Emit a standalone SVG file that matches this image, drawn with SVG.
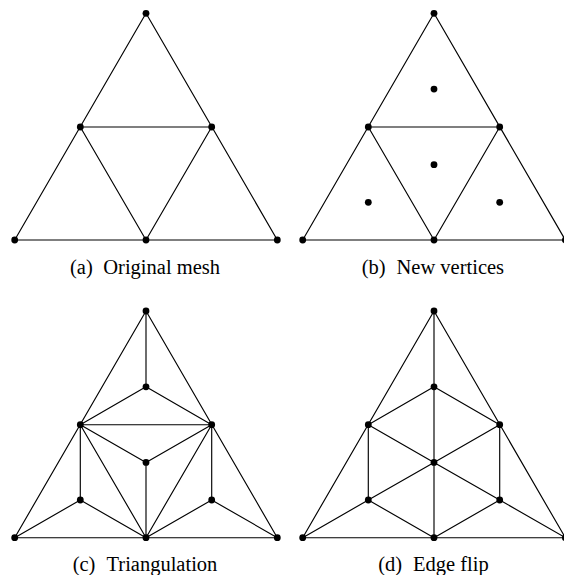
<svg xmlns="http://www.w3.org/2000/svg" width="564" height="575" viewBox="0 0 564 575">
<style>
.e{stroke:#000;stroke-width:1.15;fill:none;stroke-linecap:round}
.v{fill:#000}
.cap{font-family:"Liberation Serif","Times New Roman",serif;font-size:20.5px;fill:#000}
</style>
<defs>
<circle id="dot" r="3.4" class="v"/>
</defs>
<rect width="564" height="575" fill="#fff"/>

<!-- Panel (a) -->
<g id="panel-a">
<g id="a-edges" class="e">
<line x1="146" y1="13.3" x2="14.7" y2="240"/>
<line x1="146" y1="13.3" x2="277.3" y2="240"/>
<line x1="14.7" y1="240" x2="277.3" y2="240"/>
<line x1="80.3" y1="127" x2="211.7" y2="127"/>
<line x1="80.3" y1="127" x2="146" y2="240"/>
<line x1="211.7" y1="127" x2="146" y2="240"/>
</g>
<g id="a-nodes">
<use href="#dot" x="146" y="13.3"/>
<use href="#dot" x="80.3" y="127"/>
<use href="#dot" x="211.7" y="127"/>
<use href="#dot" x="14.7" y="240"/>
<use href="#dot" x="146" y="240"/>
<use href="#dot" x="277.3" y="240"/>
</g>
<text class="cap" y="274"><tspan x="70">(a)</tspan><tspan x="103.3">Original mesh</tspan></text>
</g>

<!-- Panel (b) -->
<g id="panel-b">
<g id="b-edges" class="e" transform="translate(288,0)">
<line x1="146" y1="13.3" x2="14.7" y2="240"/>
<line x1="146" y1="13.3" x2="277.3" y2="240"/>
<line x1="14.7" y1="240" x2="277.3" y2="240"/>
<line x1="80.3" y1="127" x2="211.7" y2="127"/>
<line x1="80.3" y1="127" x2="146" y2="240"/>
<line x1="211.7" y1="127" x2="146" y2="240"/>
</g>
<g id="b-nodes" transform="translate(288,0)">
<use href="#dot" x="146" y="13.3"/>
<use href="#dot" x="80.3" y="127"/>
<use href="#dot" x="211.7" y="127"/>
<use href="#dot" x="14.7" y="240"/>
<use href="#dot" x="146" y="240"/>
<use href="#dot" x="277.3" y="240"/>
<use href="#dot" x="146" y="89.1"/>
<use href="#dot" x="146" y="164.7"/>
<use href="#dot" x="80.3" y="202.3"/>
<use href="#dot" x="211.7" y="202.3"/>
</g>
<text class="cap" y="274"><tspan x="361.7">(b)</tspan><tspan x="396.5">New vertices</tspan></text>
</g>

<!-- Panel (c) -->
<g id="panel-c">
<g id="c-edges" class="e" transform="translate(0,297.7)">
<line x1="146" y1="13.3" x2="14.7" y2="240"/>
<line x1="146" y1="13.3" x2="277.3" y2="240"/>
<line x1="14.7" y1="240" x2="277.3" y2="240"/>
<line x1="80.3" y1="127" x2="211.7" y2="127"/>
<line x1="80.3" y1="127" x2="146" y2="240"/>
<line x1="211.7" y1="127" x2="146" y2="240"/>
<line x1="146" y1="13.3" x2="146" y2="89.1"/>
<line x1="80.3" y1="127" x2="146" y2="89.1"/>
<line x1="211.7" y1="127" x2="146" y2="89.1"/>
<line x1="80.3" y1="127" x2="146" y2="164.7"/>
<line x1="211.7" y1="127" x2="146" y2="164.7"/>
<line x1="146" y1="240" x2="146" y2="164.7"/>
<line x1="80.3" y1="127" x2="80.3" y2="202.3"/>
<line x1="14.7" y1="240" x2="80.3" y2="202.3"/>
<line x1="146" y1="240" x2="80.3" y2="202.3"/>
<line x1="211.7" y1="127" x2="211.7" y2="202.3"/>
<line x1="277.3" y1="240" x2="211.7" y2="202.3"/>
<line x1="146" y1="240" x2="211.7" y2="202.3"/>
</g>
<g id="c-nodes" transform="translate(0,297.7)">
<use href="#dot" x="146" y="13.3"/>
<use href="#dot" x="80.3" y="127"/>
<use href="#dot" x="211.7" y="127"/>
<use href="#dot" x="14.7" y="240"/>
<use href="#dot" x="146" y="240"/>
<use href="#dot" x="277.3" y="240"/>
<use href="#dot" x="146" y="89.1"/>
<use href="#dot" x="146" y="164.7"/>
<use href="#dot" x="80.3" y="202.3"/>
<use href="#dot" x="211.7" y="202.3"/>
</g>
<text class="cap" y="571"><tspan x="72.7">(c)</tspan><tspan x="106.5">Triangulation</tspan></text>
</g>

<!-- Panel (d) -->
<g id="panel-d">
<g id="d-edges" class="e" transform="translate(288,297.7)">
<line x1="146" y1="13.3" x2="14.7" y2="240"/>
<line x1="146" y1="13.3" x2="277.3" y2="240"/>
<line x1="14.7" y1="240" x2="277.3" y2="240"/>
<line x1="146" y1="13.3" x2="146" y2="240"/>
<line x1="80.3" y1="127" x2="146" y2="89.1"/>
<line x1="211.7" y1="127" x2="146" y2="89.1"/>
<line x1="80.3" y1="127" x2="146" y2="164.7"/>
<line x1="211.7" y1="127" x2="146" y2="164.7"/>
<line x1="80.3" y1="202.3" x2="146" y2="164.7"/>
<line x1="211.7" y1="202.3" x2="146" y2="164.7"/>
<line x1="80.3" y1="127" x2="80.3" y2="202.3"/>
<line x1="211.7" y1="127" x2="211.7" y2="202.3"/>
<line x1="14.7" y1="240" x2="80.3" y2="202.3"/>
<line x1="146" y1="240" x2="80.3" y2="202.3"/>
<line x1="277.3" y1="240" x2="211.7" y2="202.3"/>
<line x1="146" y1="240" x2="211.7" y2="202.3"/>
</g>
<g id="d-nodes" transform="translate(288,297.7)">
<use href="#dot" x="146" y="13.3"/>
<use href="#dot" x="80.3" y="127"/>
<use href="#dot" x="211.7" y="127"/>
<use href="#dot" x="14.7" y="240"/>
<use href="#dot" x="146" y="240"/>
<use href="#dot" x="277.3" y="240"/>
<use href="#dot" x="146" y="89.1"/>
<use href="#dot" x="146" y="164.7"/>
<use href="#dot" x="80.3" y="202.3"/>
<use href="#dot" x="211.7" y="202.3"/>
</g>
<text class="cap" y="571"><tspan x="378.3">(d)</tspan><tspan x="413">Edge flip</tspan></text>
</g>
</svg>
